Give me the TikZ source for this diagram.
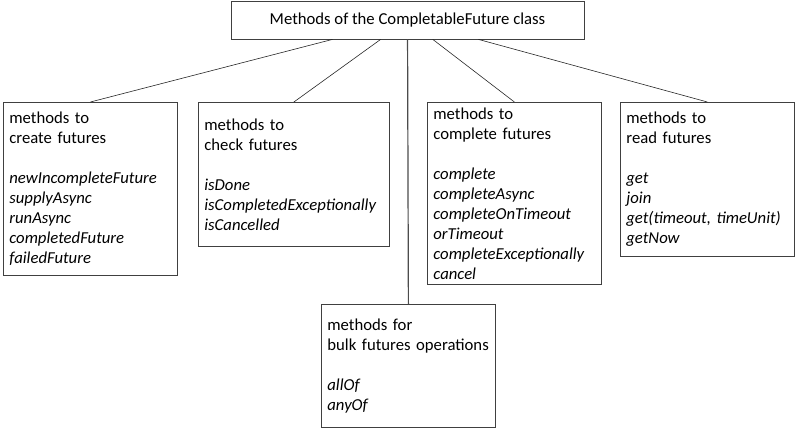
\documentclass[tikz,border=0pt]{standalone}
\usepackage{fontspec}
\setmainfont{Carlito}
\usetikzlibrary{positioning}
\tikzstyle{classbox} = [rectangle, minimum width=353pt, minimum height=38pt, text centered, draw=black!75, line width=0.8pt, font=\fontsize{16.7pt}{20pt}\selectfont]
\tikzstyle{groupbox} = [rectangle, anchor=north west, inner xsep=6pt, inner ysep=0pt, align=left, draw=black!75, line width=0.8pt, font=\fontsize{16.7pt}{20pt}\selectfont]
\tikzstyle{link} = [draw=black!85, line width=0.6pt]

\begin{document}
\begin{tikzpicture}[x=1pt, y=-1pt]

    \useasboundingbox (0,0) rectangle (796,428);

    \node (cfclass) [classbox] at (407.5,20) {Methods of the CompletableFuture class};

    \node (create)   [groupbox, text width=162pt, minimum width=174pt, minimum height=173pt] at (3,102)
        {methods to\\create futures\\[20pt]\textit{newIncompleteFuture}\\\textit{supplyAsync}\\\textit{runAsync}\\\textit{completedFuture}\\\textit{failedFuture}};
    \node (check)    [groupbox, text width=179pt, minimum width=191pt, minimum height=144pt] at (198,102)
        {methods to\\check futures\\[20pt]\textit{isDone}\\\textit{isCompletedExceptionally}\\\textit{isCancelled}};
    \node (complete) [groupbox, text width=162pt, minimum width=174pt, minimum height=182pt] at (427,102)
        {methods to\\complete futures\\[20pt]\textit{complete}\\\textit{completeAsync}\\\textit{completeOnTimeout}\\\textit{orTimeout}\\\textit{completeExceptionally}\\\textit{cancel}};
    \node (read)     [groupbox, text width=162pt, minimum width=174pt, minimum height=154pt] at (620,102)
        {methods to\\read futures\\[20pt]\textit{get}\\\textit{join}\\\textit{get(timeout, timeUnit)}\\\textit{getNow}};
    \node (bulk)     [groupbox, text width=162pt, minimum width=174pt, minimum height=123pt] at (321,304)
        {methods for\\bulk futures operations\\[20pt]\textit{allOf}\\\textit{anyOf}};

    \draw [link] (cfclass) -- (create.north);
    \draw [link] (cfclass) -- (check.north);
    \draw [link, line width=1.2pt, draw=black!70] (cfclass) -- (bulk.north);
    \draw [link] (cfclass) -- (complete.north);
    \draw [link] (cfclass) -- (read.north);

\end{tikzpicture}
\end{document}
